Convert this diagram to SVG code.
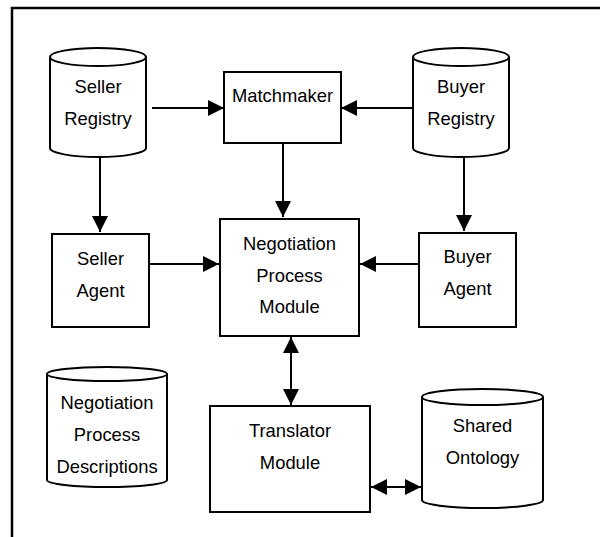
<svg xmlns="http://www.w3.org/2000/svg" width="600" height="537" viewBox="0 0 600 537">
<defs>
<style>
.s{fill:#fff;stroke:#000;stroke-width:2}
.c{fill:none;stroke:#000;stroke-width:2}
.t{font-family:"Liberation Sans",Arial,sans-serif;font-size:18.4px;fill:#000;text-anchor:middle;dominant-baseline:central}
</style>
<marker id="a" viewBox="0 0 16 16" refX="16" refY="8" markerWidth="16" markerHeight="16" markerUnits="userSpaceOnUse" orient="auto-start-reverse"><path d="M0,0L16,8L0,16Z" fill="#000"/></marker>
</defs>
<rect x="12" y="8" width="600" height="540" fill="#fff" stroke="#000" stroke-width="2.5"/>
<g id="connectors">
<line class="c" x1="152" y1="108" x2="224" y2="108" marker-end="url(#a)"/>
<line class="c" x1="415" y1="108" x2="341" y2="108" marker-end="url(#a)"/>
<line class="c" x1="283" y1="143" x2="283" y2="217" marker-end="url(#a)"/>
<line class="c" x1="100" y1="157" x2="100" y2="232" marker-end="url(#a)"/>
<line class="c" x1="464" y1="157" x2="464" y2="231" marker-end="url(#a)"/>
<line class="c" x1="149" y1="264" x2="219" y2="264" marker-end="url(#a)"/>
<line class="c" x1="419" y1="264" x2="360" y2="264" marker-end="url(#a)"/>
<line class="c" x1="291" y1="337" x2="291" y2="405" marker-start="url(#a)" marker-end="url(#a)"/>
<line class="c" x1="371" y1="487" x2="421" y2="487" marker-start="url(#a)" marker-end="url(#a)"/>
</g>
<g id="seller-registry">
<path class="s" d="M50,57 A48,9 0 0 1 146,57 L146,148 A48,9 0 0 1 50,148 Z"/>
<path class="c" d="M50,57 A48,9 0 0 0 146,57"/>
<text class="t" x="98" y="86">Seller</text><text class="t" x="98" y="118">Registry</text>
</g>
<g id="buyer-registry">
<path class="s" d="M413,57 A48,9 0 0 1 509,57 L509,148 A48,9 0 0 1 413,148 Z"/>
<path class="c" d="M413,57 A48,9 0 0 0 509,57"/>
<text class="t" x="461" y="86">Buyer</text><text class="t" x="461" y="118">Registry</text>
</g>
<g id="matchmaker">
<rect class="s" x="224" y="72" width="117" height="71"/>
<text class="t" x="282.5" y="95">Matchmaker</text>
</g>
<g id="negotiation-process-module">
<rect class="s" x="220" y="219" width="139" height="117"/>
<text class="t" x="289.5" y="243">Negotiation</text><text class="t" x="289.5" y="275">Process</text><text class="t" x="289.5" y="306">Module</text>
</g>
<g id="seller-agent">
<rect class="s" x="52" y="234" width="97" height="93"/>
<text class="t" x="100.5" y="258">Seller</text><text class="t" x="100.5" y="290">Agent</text>
</g>
<g id="buyer-agent">
<rect class="s" x="419" y="233" width="97" height="94"/>
<text class="t" x="467.5" y="256">Buyer</text><text class="t" x="467.5" y="288">Agent</text>
</g>
<g id="translator-module">
<rect class="s" x="210" y="406" width="160" height="106"/>
<text class="t" x="290" y="430">Translator</text><text class="t" x="290" y="462">Module</text>
</g>
<g id="negotiation-process-descriptions">
<path class="s" d="M47,374 A60,7 0 0 1 167,374 L167,480 A60,7 0 0 1 47,480 Z"/>
<path class="c" d="M47,374 A60,7 0 0 0 167,374"/>
<text class="t" x="107" y="402">Negotiation</text><text class="t" x="107" y="434">Process</text><text class="t" x="107" y="466">Descriptions</text>
</g>
<g id="shared-ontology">
<path class="s" d="M422,397 A60.5,8 0 0 1 543,397 L543,500 A60.5,8 0 0 1 422,500 Z"/>
<path class="c" d="M422,397 A60.5,8 0 0 0 543,397"/>
<text class="t" x="482.5" y="425">Shared</text><text class="t" x="482.5" y="457">Ontology</text>
</g>
</svg>
